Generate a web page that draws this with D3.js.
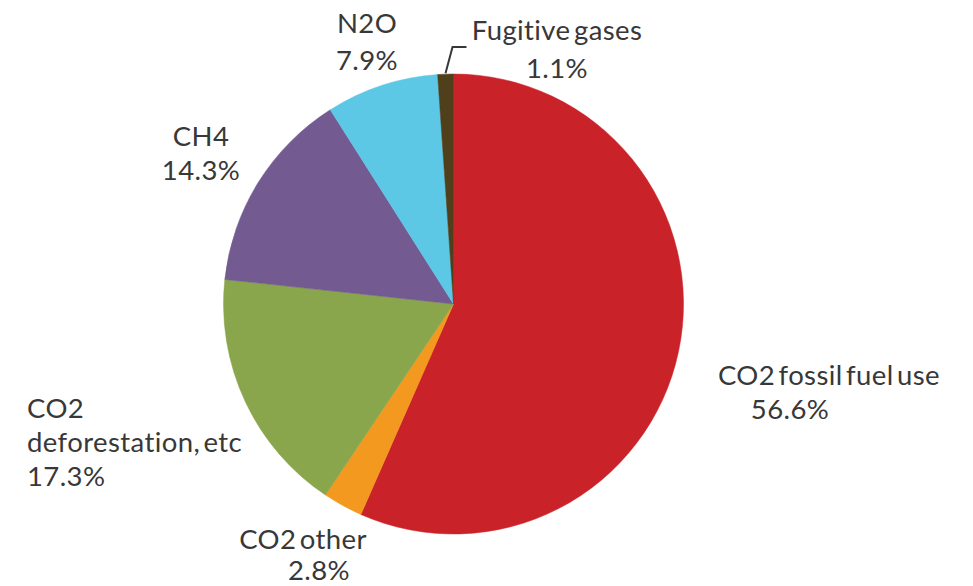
<!DOCTYPE html>
<html>
<head>
<meta charset="utf-8">
<script src="https://cdn.jsdelivr.net/npm/d3@7/dist/d3.min.js"></script>
<style>
  html, body { margin: 0; padding: 0; background: #fff; }
  svg { display: block; }
  text { font-family: Lato, "Open Sans", sans-serif; fill: #383838; }
</style>
</head>
<body>
<svg id="chart" width="973" height="586"></svg>
<script>
// Greenhouse gas emissions by source, share of total (%)
const categories = ["CO2 fossil fuel use", "CO2 other", "CO2 deforestation, etc", "CH4", "N2O", "Fugitive gases"];
const shares = [56.6, 2.8, 17.3, 14.3, 7.9, 1.1];
const colors = ["#CA2229", "#F3991F", "#8AA64C", "#735A91", "#5DC8E6", "#4F3F1B"];

// Label lines for each slice (name split over lines, then the percentage)
const labelLines = [
  ["CO2 fossil fuel use"],
  ["CO2 other"],
  ["CO2", "deforestation, etc"],
  ["CH4"],
  ["N2O"],
  ["Fugitive gases"]
];

const svg = d3.select("#chart");
const cx = 453.5, cy = 304, radius = 230;

const pie = d3.pie().sort(null).value(d => d.value).startAngle(0).endAngle(2 * Math.PI);
const arc = d3.arc().innerRadius(0).outerRadius(radius);

const data = categories.map((c, i) => ({ name: c, value: shares[i], color: colors[i], lines: labelLines[i] }));
const arcs = pie(data);

const g = svg.append("g").attr("transform", `translate(${cx},${cy})`);
g.selectAll("path.slice")
  .data(arcs)
  .join("path")
  .attr("class", "slice")
  .attr("d", arc)
  .attr("fill", d => d.data.color)
  .attr("stroke", d => d.data.color)
  .attr("stroke-width", 0.5);

// Label placement: anchor point, alignment and line spacing per slice
const fontSize = 27.5;
const lineGap = 34;
const labelLayout = {
  "CO2 fossil fuel use":   { x: 829, y: 385, anchor: "middle", pctX: 790 },
  "CO2 other":             { x: 303, y: 549, anchor: "middle", pctX: 319, pctGap: 31 },
  "CO2 deforestation, etc":{ x: 27,  y: 418, anchor: "start" },
  "CH4":                   { x: 201, y: 146, anchor: "middle" },
  "N2O":                   { x: 367, y: 33,  anchor: "middle", pctGap: 37 },
  "Fugitive gases":        { x: 557, y: 40,  anchor: "middle", pctGap: 38 }
};

const labels = svg.append("g").attr("class", "labels")
  .style("font-size", fontSize + "px")
  .style("letter-spacing", "0.4px");
arcs.forEach(a => {
  const L = labelLayout[a.data.name];
  const t = labels.append("text").attr("text-anchor", L.anchor);
  a.data.lines.forEach((line, k) => {
    t.append("tspan").attr("x", L.x).attr("y", L.y + k * lineGap)
      .attr("word-spacing", "-4px")
      .text(line);
  });
  const n = a.data.lines.length;
  t.append("tspan")
    .attr("x", L.pctX !== undefined ? L.pctX : L.x)
    .attr("y", L.y + (n - 1) * lineGap + (L.pctGap || lineGap))
    .text(d3.format(".1f")(a.data.value) + "%");
});

// Leader line for the thin fugitive gases slice
const fug = arcs[arcs.length - 1];
const mid = (fug.startAngle + fug.endAngle) / 2;
const p0 = [cx + Math.sin(mid) * (radius + 1), cy - Math.cos(mid) * (radius + 1)];
svg.append("path")
  .attr("d", d3.line()([p0, [p0[0] + 7, 47], [p0[0] + 21, 47]]))
  .attr("fill", "none")
  .attr("stroke", "#383838")
  .attr("stroke-width", 2);
</script>
</body>
</html>
